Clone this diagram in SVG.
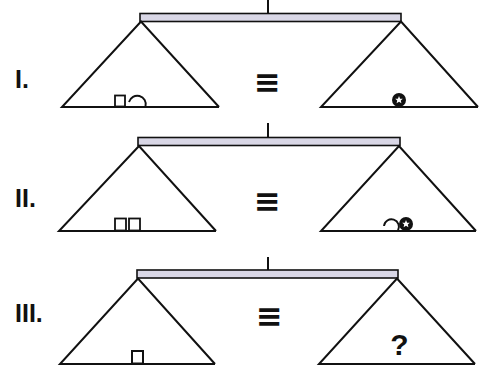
<svg xmlns="http://www.w3.org/2000/svg" width="481" height="374" viewBox="0 0 481 374">
<defs>
<style>
.post{stroke:#111;stroke-width:2;fill:none}
.beam{fill:#d9d7e6;stroke:#111;stroke-width:1.6}
.tri{fill:none;stroke:#111;stroke-width:2;stroke-linejoin:miter}
.sq{fill:#fff;stroke:#111;stroke-width:1.8}
.arc{fill:none;stroke:#111;stroke-width:1.9}
.lbl{font-family:"Liberation Sans",Arial,sans-serif;font-weight:bold;font-size:25px;fill:#111}
.eq{font-family:"DejaVu Sans",sans-serif;font-weight:bold;font-size:32px;fill:#111}
.q{font-family:"Liberation Sans",Arial,sans-serif;font-weight:bold;font-size:30px;fill:#111}
</style>
<g id="starball">
<circle cx="0" cy="0" r="7" fill="#111"/>
<polygon fill="#fff" points="0,-4 1.1,-1.3 3.8,-1.2 1.8,0.6 2.4,3.2 0,1.8 -2.4,3.2 -1.8,0.6 -3.8,-1.2 -1.1,-1.3"/>
</g>
</defs>
<rect width="481" height="374" fill="#fff"/>

<g id="scale1">
<line class="post" x1="268" y1="0" x2="268" y2="21"/>
<rect class="beam" x="140" y="13.5" width="261" height="8"/>
<polyline class="tri" points="219,107 141,21.5 62,107 219,107"/>
<polyline class="tri" points="478,107 401,21.5 321,107 478,107"/>
<text class="lbl" x="15" y="88">I.</text>
<text class="eq" x="267.5" y="93" text-anchor="middle">≡</text>
<rect class="sq" x="115" y="95.5" width="10" height="11"/>
<path class="arc" d="M129,102 A8.5,8.5 0 1 1 145.5,106.5"/>
<use href="#starball" x="399" y="100"/>
</g>

<g id="scale2">
<line class="post" x1="268" y1="123" x2="268" y2="146"/>
<rect class="beam" x="138" y="137.5" width="262" height="8"/>
<polyline class="tri" points="216,231 139,146 59,231 216,231"/>
<polyline class="tri" points="476,231 399,146 321,231 476,231"/>
<text class="lbl" x="15" y="207">II.</text>
<text class="eq" x="267.5" y="212" text-anchor="middle">≡</text>
<rect class="sq" x="115" y="218.5" width="11" height="12"/>
<rect class="sq" x="129" y="218.5" width="11" height="12"/>
<path class="arc" d="M384,226 A7.5,7.5 0 1 1 398,230.5"/>
<use href="#starball" x="406" y="224"/>
</g>

<g id="scale3">
<line class="post" x1="268" y1="257" x2="268" y2="278"/>
<rect class="beam" x="137" y="270" width="261" height="8"/>
<polyline class="tri" points="215,364 138,278.5 60,364 215,364"/>
<polyline class="tri" points="475,364 397,278.5 319,364 475,364"/>
<text class="lbl" x="15" y="322">III.</text>
<text class="eq" x="269.5" y="327" text-anchor="middle">≡</text>
<rect class="sq" x="132" y="351" width="11" height="12.5" style="stroke-width:2"/>
<text class="q" x="399.5" y="355" text-anchor="middle">?</text>
</g>
</svg>
